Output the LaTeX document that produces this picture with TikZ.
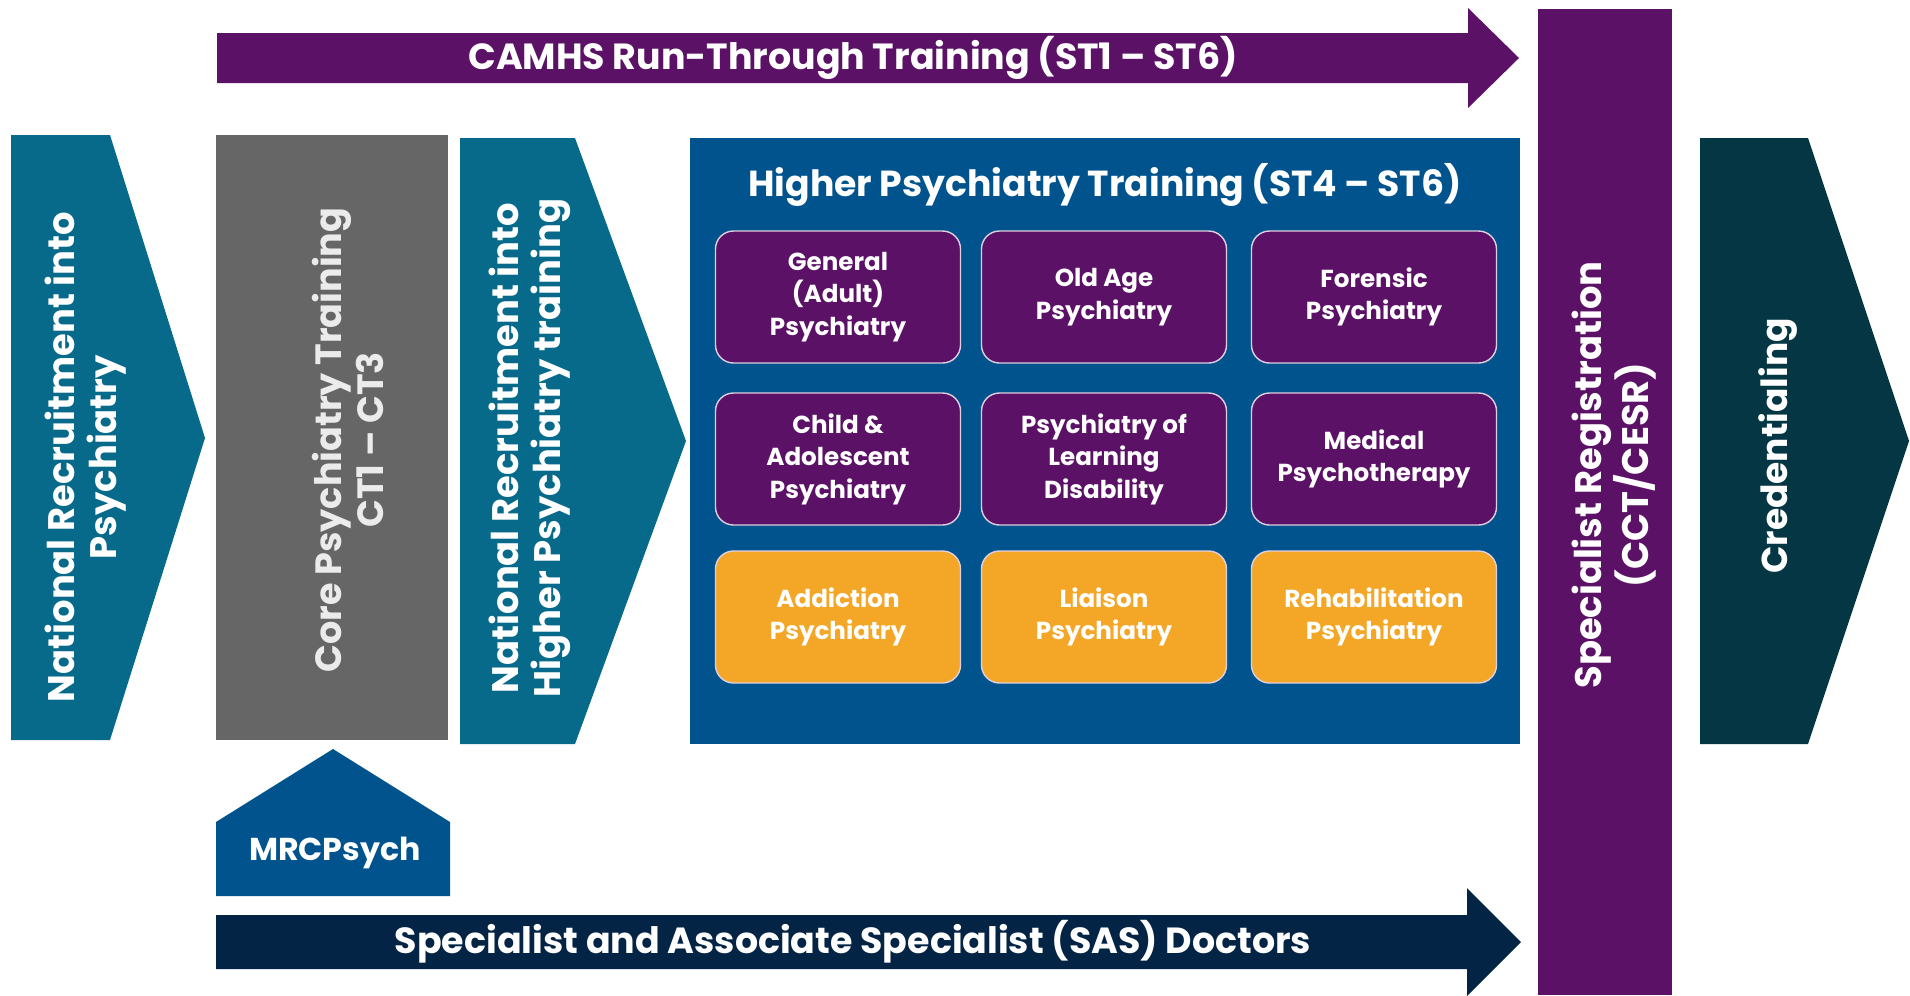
\documentclass[tikz,border=0pt]{standalone}
\usepackage{fontspec}
\setmainfont{Poppins}
\usetikzlibrary{positioning}

\definecolor{camhs}{RGB}{91,17,102}
\definecolor{recruit}{RGB}{7,106,139}
\definecolor{core}{RGB}{102,102,102}
\definecolor{higher}{RGB}{0,83,140}
\definecolor{amber}{RGB}{244,167,39}
\definecolor{cred}{RGB}{4,55,67}
\definecolor{sas}{RGB}{3,36,68}

\begin{document}
\begin{tikzpicture}[x=0.2mm,y=-0.2mm,
  lbl/.style={text=white,font=\bfseries\fontsize{20.7}{25}\selectfont,align=center},
  side/.style={lbl,rotate=90,font=\bfseries\fontsize{21}{24}\selectfont},
  spec/.style={rounded corners=3.6mm,draw=white!80!camhs,line width=0.8pt,
    minimum width=49mm,minimum height=26.4mm,text=white,align=center,
    font=\bfseries\fontsize{14}{18.5}\selectfont}]

\useasboundingbox (0,0) rectangle (1910,995);

%% run-through arrow and registration bar
\fill[camhs] (217,33)--(1468,33)--(1468,8)--(1519,58)--(1468,108)--(1468,83)--(217,83)--cycle;
\node[lbl] (runthrough) at (853,58) {CAMHS Run-Through Training (ST1 – ST6)};
\fill[camhs] (1538,9) rectangle (1672,995);
\node[side] (register) at (1614,475) {Specialist Registration\\(CCT/CESR)};

%% pathway
\fill[recruit] (11,135)--(110,135)--(205,438)--(110,740)--(11,740)--cycle;
\node[side] (recruit1) at (86,457) {National Recruitment into\\Psychiatry};

\fill[core] (216,135) rectangle (448,740);
\node[side,text=white!92!black,font=\bfseries\fontsize{20.8}{24}\selectfont] (coretrain) at (348,440) {Core Psychiatry Training\\CT1 – CT3};

\fill[recruit] (460,138)--(575,138)--(686,441)--(575,744)--(460,744)--cycle;
\node[side] (recruit2) at (530,448) {National Recruitment into\\Higher Psychiatry training};

\fill[higher] (690,138) rectangle (1520,744);
\node[lbl,font=\bfseries\fontsize{20.6}{25}\selectfont] (highertitle) at (1105,185) {Higher Psychiatry Training (ST4 – ST6)};

\foreach \x/\y/\c/\t [count=\i] in {
  838/297/camhs/{General\\(Adult)\\Psychiatry},
  1104/297/camhs/{Old Age\\Psychiatry},
  1374/297/camhs/{Forensic\\Psychiatry},
  838/459/camhs/{Child \&\\Adolescent\\Psychiatry},
  1104/459/camhs/{Psychiatry of\\Learning\\Disability},
  1374/459/camhs/{Medical\\Psychotherapy},
  838/617/amber/{Addiction\\Psychiatry},
  1104/617/amber/{Liaison\\Psychiatry},
  1374/617/amber/{Rehabilitation\\Psychiatry}}{
\node[spec,fill=\c] (b\i) at (\x,\y) {\t};
}

\fill[cred] (1700,138)--(1808,138)--(1909,441)--(1808,744)--(1700,744)--cycle;
\node[side,font=\bfseries\fontsize{20.5}{24}\selectfont] (credential) at (1778,446) {Credentialing};

%% exam and SAS route
\fill[higher] (216,822)--(333,749)--(450,822)--(450,896)--(216,896)--cycle;
\node[lbl,font=\bfseries\fontsize{18}{23}\selectfont] (mrcpsych) at (335,853) {MRCPsych};

\fill[sas] (216,915)--(1467,915)--(1467,888)--(1521,942)--(1467,996)--(1467,969)--(216,969)--cycle;
\node[lbl] (sasdocs) at (853,942) {Specialist and Associate Specialist (SAS) Doctors};

\end{tikzpicture}
\end{document}
